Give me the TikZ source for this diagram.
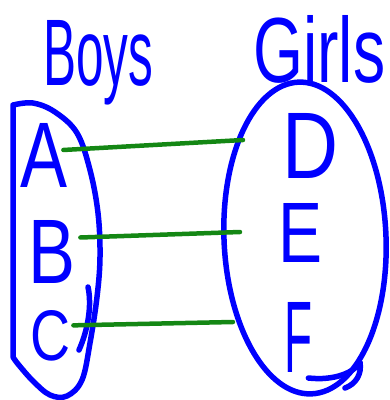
\documentclass[tikz,border=0pt]{standalone}
\usepackage{fontspec}
\setmainfont{Liberation Sans}
\usepackage{graphicx}
\usetikzlibrary{shapes.geometric}
\definecolor{pen}{RGB}{0,0,255}
\definecolor{link}{RGB}{20,135,20}
\tikzset{
  ink/.style={draw=pen, line width=5.5pt, line cap=round, line join=round},
  pair/.style={draw=link, line width=4.5pt, line cap=round},
  word/.style={text=pen, inner sep=0pt, anchor=base west},
}
\begin{document}
\begin{tikzpicture}[x=1pt,y=1pt]
\useasboundingbox (0,0) rectangle (390,-400);

% headings
\node[word] (boys)  at (43,-85)  {\resizebox{110pt}{65pt}{Boys}};
\node[word] (girls) at (253,-82) {\resizebox{132pt}{67pt}{Girls}};

% set of boys: flat left side, rounded right side
\draw[ink] (13,-357) -- (13,-105)
  plot[smooth, tension=0.6] coordinates {(13,-105) (33,-103) (55,-112) (77,-133) (90,-170)
    (98,-213) (100,-257) (97,-297) (90,-343) (82,-380) (67,-396) (50,-395) (33,-381)
    (18,-364) (13,-357)};
\draw[ink] (88,-287) .. controls (92,-305) and (88,-330) .. (79,-350);

% set of girls
\node[ink, ellipse, rotate=2.4, minimum width=162pt, minimum height=312pt, inner sep=0pt]
  (girlset) at (305,-238) {};

% members
\node[word] (A) at (20,-187) {\resizebox{47pt}{64pt}{A}};
\node[word] (B) at (28,-283) {\resizebox{47pt}{63pt}{B}};
\node[word] (C) at (30,-360) {\resizebox{40pt}{50pt}{C}};
\node[word] (D) at (282,-178) {\resizebox{56pt}{65pt}{D}};
\node[word] (E) at (278,-262) {\resizebox{44pt}{59pt}{E}};
\node[word] (F) at (284,-372) {\resizebox{28pt}{70pt}{F}};
\draw[ink] (F.base east) ++(-4,-6) .. controls (335,-381) and (355,-372) .. (360,-362)
  .. controls (362,-374) and (356,-384) .. (345,-388);

% pairings
\coordinate (dEnd) at (243,-140);
\coordinate (eEnd) at (240,-232);
\coordinate (fEnd) at (233,-322);
\draw[pair] ([xshift=-4pt,yshift=5pt]A.east) -- (dEnd);
\draw[pair] ([xshift=5pt,yshift=14pt]B.east) -- (eEnd);
\draw[pair] ([xshift=3pt,yshift=10pt]C.east) -- (fEnd);
\end{tikzpicture}
\end{document}
